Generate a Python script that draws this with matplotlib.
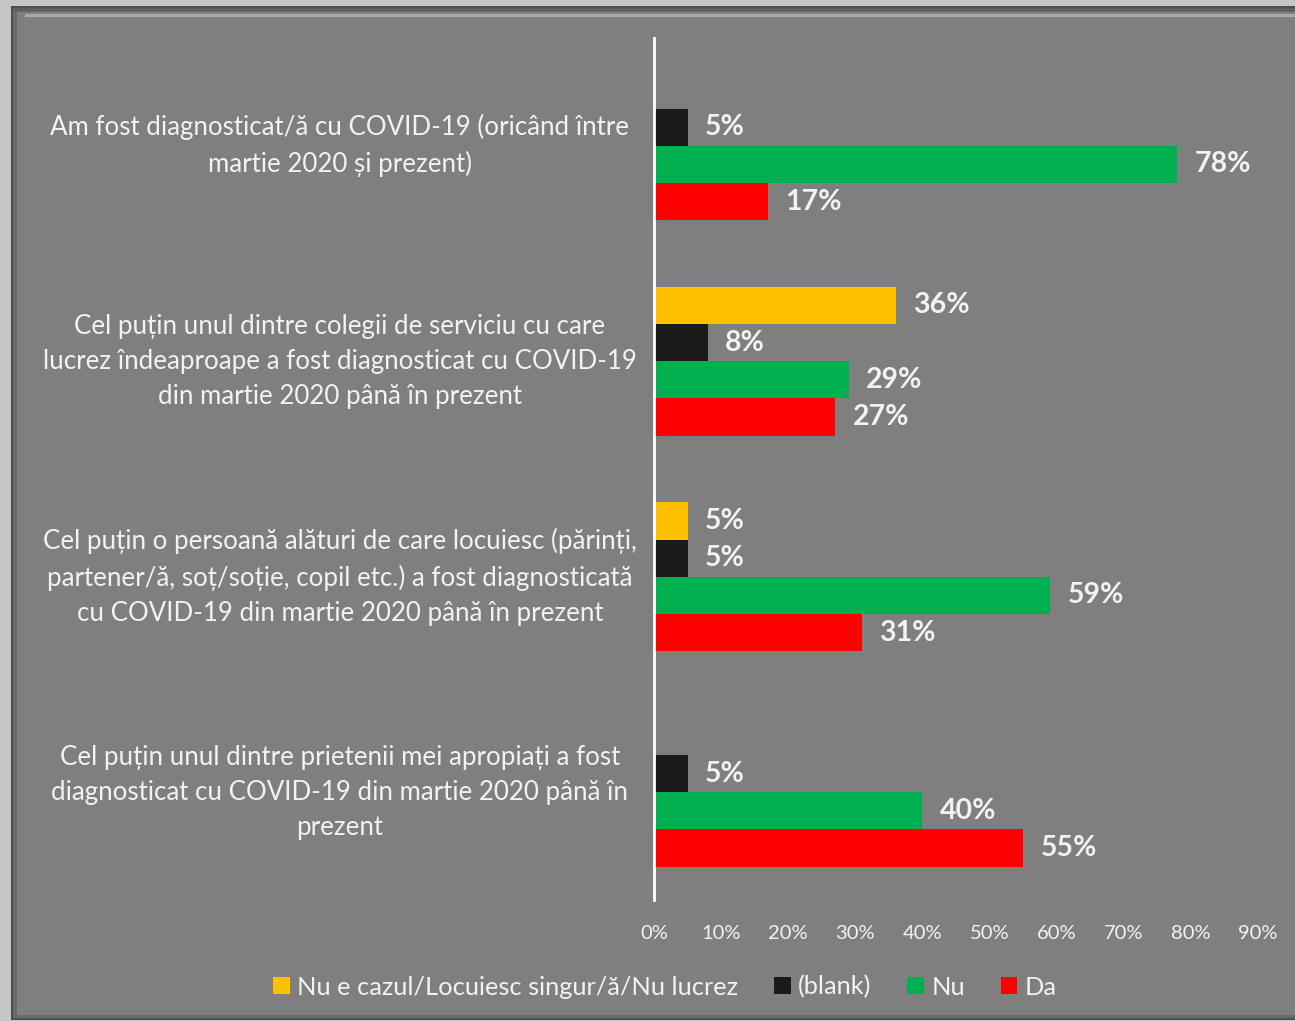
import numpy as np
import matplotlib.pyplot as plt
from matplotlib.patches import Rectangle, Patch

plt.rcParams['font.family'] = ['Lato', 'DejaVu Sans']

# data
categories = [
    "Am fost diagnosticat/ă cu COVID-19 (oricând între\nmartie 2020 și prezent)",
    "Cel puțin unul dintre colegii de serviciu cu care\nlucrez îndeaproape a fost diagnosticat cu COVID-19\ndin martie 2020 până în prezent",
    "Cel puțin o persoană alături de care locuiesc (părinți,\npartener/ă, soț/soție, copil etc.) a fost diagnosticată\ncu COVID-19 din martie 2020 până în prezent",
    "Cel puțin unul dintre prietenii mei apropiați a fost\ndiagnosticat cu COVID-19 din martie 2020 până în\nprezent",
]
series_names = ["Nu e cazul/Locuiesc singur/ă/Nu lucrez", "(blank)", "Nu", "Da"]
nu_e_cazul = [0, 36, 5, 0]
blank = [5, 8, 5, 5]
nu = [78, 29, 59, 40]
da = [17, 27, 31, 55]
xticks = [0, 10, 20, 30, 40, 50, 60, 70, 80, 90]

colors = ['#ffc000', '#1a1a1a', '#00b050', '#ff0000']
txt = '#f2f2f2'

W, H = 1295, 1021
fig = plt.figure(figsize=(W / 100, H / 100), dpi=100, facecolor='#c6c6c6')

def px(x0, y0, x1, y1, **kw):
    fig.patches.append(Rectangle((x0 / W, 1 - y1 / H), (x1 - x0) / W, (y1 - y0) / H,
                                 transform=fig.transFigure, zorder=-10, **kw))

# bevelled panel
px(11, 6, 1300, 1020, facecolor='#4f4f4f', edgecolor='none')
px(13, 8, 1300, 1018, facecolor='#6a6a6a', edgecolor='none')
px(17, 12, 1300, 1015, facecolor='#7f7f7f', edgecolor='none')
px(25, 14, 1300, 17, facecolor='#a9a9a9', edgecolor='none')
px(13, 8, 1300, 11, facecolor='#5e5e5e', edgecolor='none')

ax = fig.add_axes([654 / W, 1 - 900 / H, (1258 - 654) / W, (900 - 38) / H])
ax.set_facecolor('none')

values = [nu_e_cazul, blank, nu, da]
y = np.arange(len(categories))
h = 0.1725
for k, (vals, c, name) in enumerate(zip(values, colors, series_names)):
    pos = y + (k - 1.5) * h
    ax.barh(pos, vals, height=h, color=c, label=name)
    for p, v in zip(pos, vals):
        if v > 0:
            ax.text(v + 2.6, p, f"{v}%", va='center', ha='left', color=txt,
                    fontsize=20.5, fontweight='bold')

ax.set_xlim(0, 90)
ax.set_ylim(3.5, -0.5)
ax.set_xticks(xticks)
ax.set_xticklabels([f"{t}%" for t in xticks], color=txt, fontsize=14.5)
ax.tick_params(axis='x', length=0, pad=18)
ax.set_yticks([])
for s in ['top', 'right', 'bottom']:
    ax.spines[s].set_visible(False)
ax.spines['left'].set_color('white')
ax.spines['left'].set_linewidth(2)

for i, cat in enumerate(categories):
    ax.text(-0.52, i, cat, transform=ax.get_yaxis_transform(), ha='center', va='center',
            color=txt, fontsize=18.6, linespacing=1.5)

handles = [Patch(facecolor=c) for c in colors]
fig.legend(handles, series_names, loc='center', bbox_to_anchor=(665 / W, 1 - 987 / H),
           ncol=4, frameon=False, fontsize=18.3, labelcolor=txt,
           handlelength=0.65, handleheight=0.65, handletextpad=0.3, columnspacing=1.4)

fig.savefig('out.png', dpi=100, facecolor=fig.get_facecolor())
